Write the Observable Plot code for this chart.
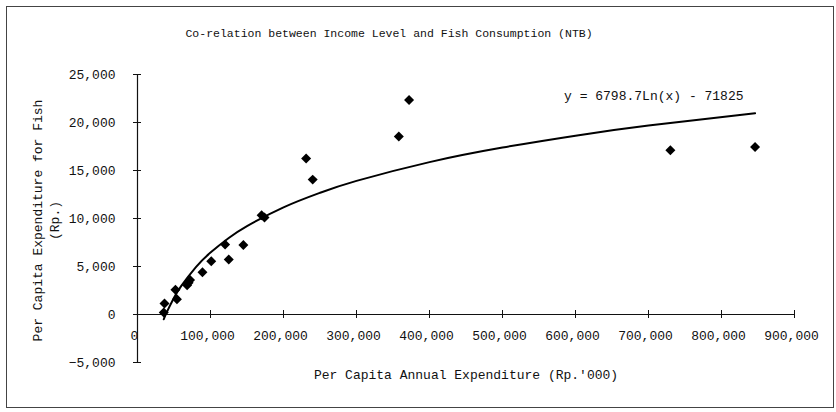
<!DOCTYPE html>
<html><head><meta charset="utf-8">
<script src="https://cdn.jsdelivr.net/npm/d3@7"></script>
<script src="https://cdn.jsdelivr.net/npm/@observablehq/plot@0.6"></script>
<style>
body{margin:0;background:#fff;}
#chart{position:relative;width:836px;height:412px;}
#frame{position:absolute;left:6px;top:6px;width:828px;height:402px;border:1px solid #444;box-sizing:border-box;pointer-events:none}
</style></head><body><div id="chart"><div id="frame"></div></div>
<script>
const title = "Co-relation between Income Level and Fish Consumption (NTB)";
const xTitle = "Per Capita Annual Expenditure (Rp.'000)";
const yTitle = "Per Capita Expenditure for Fish\n(Rp.)";
const equation = "y = 6798.7Ln(x) - 71825";

// observed points
const income  = [36000, 37000, 52000, 54000, 68000, 70000, 72000, 89000, 101000, 120000, 125000, 145000, 170000, 174000, 231000, 240000, 358000, 372000, 730000, 846000];
const fishExp = [200, 1150, 2570, 1600, 3050, 3300, 3600, 4400, 5550, 7300, 5720, 7250, 10350, 10100, 16250, 14050, 18550, 22350, 17100, 17450];

// logarithmic trendline as drawn in the chart
const trendX = [36000, 40000, 50000, 60000, 80000, 100000, 125000, 150000, 200000, 250000, 300000, 400000, 500000, 600000, 700000, 846000];
const trendY = [-499, 222, 1738, 2977, 4933, 6450, 7967, 9206, 11162, 12679, 13919, 15875, 17392, 18631, 19679, 20965];

const xTicks = [0, 100000, 200000, 300000, 400000, 500000, 600000, 700000, 800000, 900000];
const yTicks = [-5000, 0, 5000, 10000, 15000, 20000, 25000];

const points = income.map((x, i) => ({x, y: fishExp[i]}));
const trend = trendX.map((x, i) => ({x, y: trendY[i]}));
const fmt = d3.format(",");
const FONT = "Liberation Mono, DejaVu Sans Mono, monospace";

const chart = Plot.plot({
  width: 836,
  height: 412,
  marginLeft: 137,
  marginRight: 42,
  marginTop: 74,
  marginBottom: 50,
  style: {fontFamily: FONT, fontSize: "13px", color: "#111", background: "transparent"},
  x: {domain: [0, 900000], axis: null},
  y: {domain: [-5000, 25000], axis: null},
  marks: [
    Plot.ruleX([0], {stroke: "#111", strokeWidth: 1.2}),
    Plot.ruleY([0], {stroke: "#111", strokeWidth: 1.2}),
    Plot.ruleY(yTicks, {y: d => d, x1: 0, x2: 0, insetLeft: -4, insetRight: -4, stroke: "#111"}),
    Plot.ruleX(xTicks.slice(1), {x: d => d, y1: 0, y2: 0, insetTop: -4, insetBottom: -4, stroke: "#111"}),
    Plot.axisY({ticks: yTicks, tickSize: 0, tickPadding: 22, tickFormat: fmt, label: null, fontSize: 13, fill: "#111"}),
    Plot.text(xTicks, {x: d => d, y: 0, dy: 21, dx: -3, text: d => fmt(d), fontSize: 13, fill: "#111"}),
    Plot.line(trend, {x: "x", y: "y", stroke: "#000", strokeWidth: 2, curve: "natural"}),
    Plot.dot(points, {x: "x", y: "y", symbol: "diamond2", r: 4.5, fill: "#000", stroke: "none"}),
    Plot.text([equation], {frameAnchor: "top-right", textAnchor: "end", dx: -51, dy: 16, fontSize: 13, fill: "#111"}),
    Plot.text([title], {frameAnchor: "top", dx: -77, dy: -46, fontSize: 11.5, fill: "#111"}),
    Plot.text([xTitle], {frameAnchor: "bottom", dy: 16, fontSize: 13, fill: "#111"}),
    Plot.text([yTitle], {frameAnchor: "left", dx: -92, dy: 2, rotate: -90, textAnchor: "middle", lineAnchor: "middle", lineHeight: 1.3, fontSize: 13, fill: "#111"})
  ]
});
document.getElementById("chart").prepend(chart);
</script>
</body></html>
